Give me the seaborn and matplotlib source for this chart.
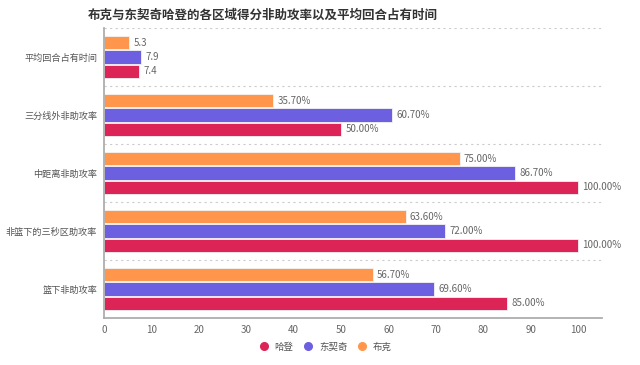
import matplotlib
matplotlib.use("Agg")
import matplotlib.pyplot as plt
import numpy as np
import pandas as pd
import seaborn as sns
from matplotlib.lines import Line2D

categories = ["平均回合占有时间", "三分线外非助攻率", "中距离非助攻率", "非篮下的三秒区助攻率", "篮下非助攻率"]
players = ["布克", "东契奇", "哈登"]
booker = [5.3, 35.7, 75.0, 63.6, 56.7]
doncic = [7.9, 60.7, 86.7, 72.0, 69.6]
harden = [7.4, 50.0, 100.0, 100.0, 85.0]
colors = {"哈登": "#DC2456", "东契奇": "#6C60E0", "布克": "#FF964B"}
legend_order = ["哈登", "东契奇", "布克"]

sns.set_theme(style="white")
plt.rcParams["font.family"] = ["Noto Sans CJK SC", "DejaVu Sans"]

rows = []
for p, vals in zip(players, [booker, doncic, harden]):
    for c, v in zip(categories, vals):
        rows.append({"cat": c, "player": p, "value": v})
df = pd.DataFrame(rows)

fig = plt.figure(figsize=(6.4, 3.65), dpi=100)
ax = fig.add_axes([0.1625, 0.1288, 0.778, 0.7945])

sns.barplot(data=df, y="cat", x="value", hue="player", hue_order=players,
            order=categories, palette=colors, orient="h", width=0.74, gap=0.06,
            saturation=1, edgecolor="#f3f3f3", linewidth=0.6, ax=ax, legend=False)

for cont, p in zip(ax.containers, players):
    labels = []
    for c, v in zip(categories, df[df.player == p]["value"]):
        labels.append(f"{v:.1f}" if c == "平均回合占有时间" else f"{v:.2f}%")
    ax.bar_label(cont, labels=labels, padding=3, fontsize=7, color="#666666")

ax.set_xlim(0, 105)
ax.set_ylim(len(categories) - 0.5, -0.5)
ax.set_xticks(range(0, 101, 10))
ax.set_xlabel("")
ax.set_ylabel("")
ax.tick_params(axis="x", labelsize=7, colors="#666666", length=0, pad=5)
ax.tick_params(axis="y", labelsize=6.6, colors="#555555", length=0, pad=5)

for y in np.arange(-0.5, len(categories) - 0.5, 1.0):
    ax.axhline(y, color="#cccccc", linestyle=(0, (2, 3)), linewidth=0.8)

for s in ["top", "right"]:
    ax.spines[s].set_visible(False)
ax.spines["left"].set_color("#aaaaaa")
ax.spines["bottom"].set_color("#aaaaaa")

fig.text(0.41, 0.958, "布克与东契奇哈登的各区域得分非助攻率以及平均回合占有时间",
         ha="center", va="center", fontsize=9.0, fontweight="bold", color="#333333")

handles = [Line2D([0], [0], marker="o", linestyle="", markersize=5.5,
                  markerfacecolor=colors[p], markeredgecolor=colors[p]) for p in legend_order]
fig.legend(handles, legend_order, loc="center", bbox_to_anchor=(0.505, 0.049), ncol=3,
           frameon=False, fontsize=6.8, handletextpad=0.1, columnspacing=0.6,
           labelcolor="#555555")

fig.savefig("out.png", dpi=100)
